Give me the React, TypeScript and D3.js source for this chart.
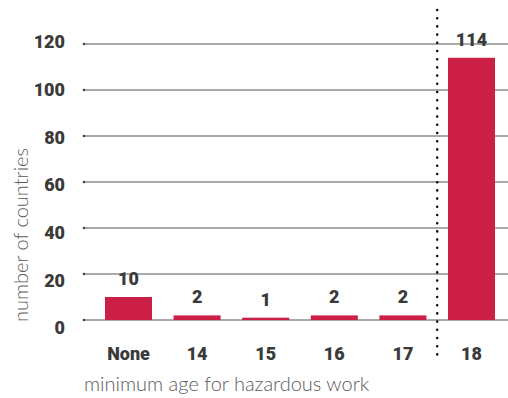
import React from "react";
import * as d3 from "d3";

const categories = ["None", "14", "15", "16", "17", "18"];
const values = [10, 2, 1, 2, 2, 114];
const yTicks = [0, 20, 40, 60, 80, 100, 120];
const xTitle = "minimum age for hazardous work";
const yTitle = "number of countries";

const W = 508;
const H = 398;

export default function App() {
  const y = d3.scaleLinear().domain([0, 120]).range([320, 44]);
  const yLabel = d3.scaleLinear().domain([0, 120]).range([328, 42]);
  const x = d3
    .scaleBand<string>()
    .domain(categories)
    .range([105, 495])
    .paddingInner(0.315)
    .paddingOuter(0);

  const boldFont = "Roboto, 'Open Sans', sans-serif";
  const lightFont = "Lato, 'Open Sans', sans-serif";
  const dividerX = ((x("17") as number) + x.bandwidth() + (x("18") as number)) / 2;

  return (
    <svg
      width={W}
      height={H}
      style={{ position: "absolute", left: 0, top: 0, background: "#fff" }}
    >
      {yTicks.map((t) => (
        <g key={t}>
          <line x1={84} x2={W} y1={y(t)} y2={y(t)} stroke="#555" strokeWidth={1} />
          <circle cx={84} cy={y(t)} r={1.3} fill="#444" />
          <text
            x={65}
            y={yLabel(t)}
            dy="0.35em"
            textAnchor="end"
            fontFamily={boldFont}
            fontWeight={900}
            fontSize={18}
            fill="#3a3a3a"
          >
            {t}
          </text>
        </g>
      ))}
      {categories.map((c, i) => {
        const bx = x(c) as number;
        return (
          <g key={c}>
            <rect
              x={bx}
              y={y(values[i])}
              width={x.bandwidth()}
              height={y(0) - y(values[i])}
              fill="#cc1f45"
            />
            <text
              x={bx + x.bandwidth() / 2}
              y={y(values[i]) - 12}
              textAnchor="middle"
              fontFamily={boldFont}
              fontWeight={900}
              fontSize={18}
              fill="#3a3a3a"
            >
              {values[i]}
            </text>
            <text
              x={bx + x.bandwidth() / 2}
              y={360}
              textAnchor="middle"
              fontFamily={boldFont}
              fontWeight={900}
              fontSize={18}
              fill="#3a3a3a"
            >
              {c}
            </text>
          </g>
        );
      })}
      <line
        x1={dividerX}
        x2={dividerX}
        y1={10}
        y2={362}
        stroke="#111"
        strokeWidth={2.6}
        strokeLinecap="round"
        strokeDasharray="0 8.2"
      />
      <text
        x={84}
        y={391}
        fontFamily={lightFont}
        fontWeight={300}
        fontSize={20}
        fill="#5a5a5a"
      >
        {xTitle}
      </text>
      <text
        transform={`translate(28,235) rotate(-90)`}
        textAnchor="middle"
        fontFamily={lightFont}
        fontWeight={300}
        fontSize={20}
        fill="#5a5a5a"
      >
        {yTitle}
      </text>
    </svg>
  );
}
